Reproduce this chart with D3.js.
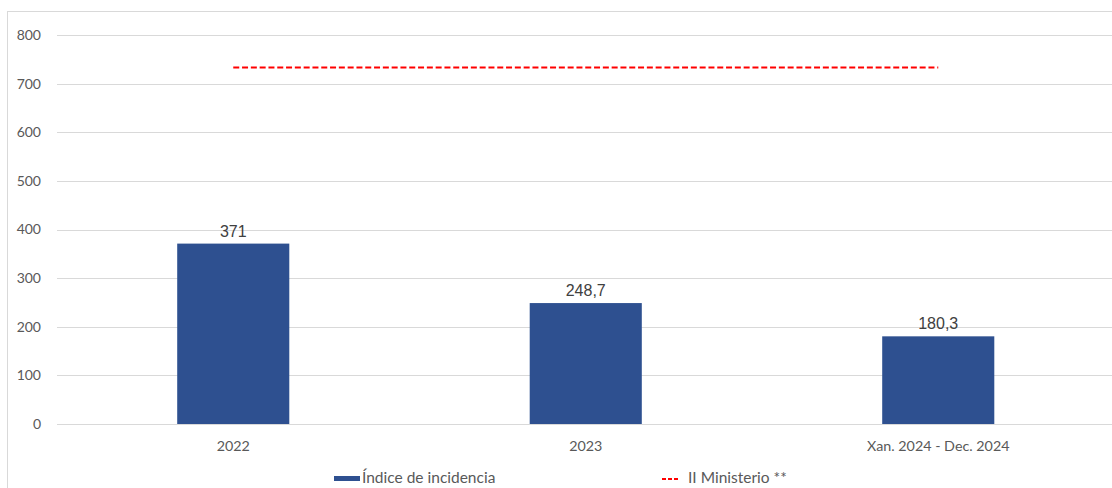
<!DOCTYPE html>
<html>
<head>
<meta charset="utf-8">
<script src="https://cdn.jsdelivr.net/npm/d3@7"></script>
<style>
  body { margin: 0; background: #fff; }
</style>
</head>
<body>
<div id="canvas"></div>
<script>
"use strict"

/* Data */
let categories = ["2022", "2023", "Xan. 2024 - Dec. 2024"];
let incidence = [371, 248.7, 180.3];
let valueLabels = ["371", "248,7", "180,3"];
let ministerio = [733, 733, 733];
let yTicks = [0, 100, 200, 300, 400, 500, 600, 700, 800];
let legendNames = ["Índice de incidencia", "II Ministerio **"];

/* Drawing configuration */
let svgWidth = 1112;
let svgHeight = 488;
let plotLeft = 57;
let plotRight = 1114.5;
let plotTop = 35;
let plotBottom = 424;
let barColor = "#2e5090";
let gridColor = "#d9d9d9";

let svg = d3.select("#canvas")
    .append("svg")
    .attr("width", svgWidth)
    .attr("height", svgHeight)
    .style("display", "block");

/* Chart area border (runs past the right and bottom edges) */
svg.append("rect")
    .attr("x", 7.5)
    .attr("y", 11.5)
    .attr("width", 1200)
    .attr("height", 600)
    .attr("fill", "none")
    .attr("stroke", gridColor);

let xScale = d3.scaleBand()
    .domain(categories)
    .range([plotLeft, plotRight])
    .paddingInner(0.682)
    .paddingOuter(0.341);

let yScale = d3.scaleLinear()
    .domain([0, 800])
    .range([plotBottom, plotTop]);

/* Gridlines */
svg.selectAll(".grid")
    .data(yTicks)
    .join("line")
    .attr("class", "grid")
    .attr("x1", plotLeft)
    .attr("x2", plotRight + 20)
    .attr("y1", d => Math.round(yScale(d)) + 0.5)
    .attr("y2", d => Math.round(yScale(d)) + 0.5)
    .attr("stroke", gridColor)
    .attr("stroke-width", 1);

/* Y tick labels */
svg.selectAll(".ylab")
    .data(yTicks)
    .join("text")
    .attr("class", "ylab")
    .attr("x", 41)
    .attr("y", d => yScale(d))
    .attr("dy", "0.35em")
    .attr("text-anchor", "end")
    .attr("font-family", "Lato, sans-serif")
    .attr("font-size", 14)
    .attr("fill", "#595959")
    .text(d => d);

/* Bars */
svg.selectAll(".bar")
    .data(incidence)
    .join("rect")
    .attr("class", "bar")
    .attr("x", (d, i) => xScale(categories[i]))
    .attr("y", d => yScale(d))
    .attr("width", xScale.bandwidth())
    .attr("height", d => yScale(0) - yScale(d))
    .attr("fill", barColor);

/* Value labels */
svg.selectAll(".vlab")
    .data(incidence)
    .join("text")
    .attr("class", "vlab")
    .attr("x", (d, i) => xScale(categories[i]) + xScale.bandwidth() / 2)
    .attr("y", d => yScale(d) - 7)
    .attr("text-anchor", "middle")
    .attr("font-family", "'Liberation Sans', Arial, sans-serif")
    .attr("font-size", 16)
    .attr("fill", "#404040")
    .text((d, i) => valueLabels[i]);

/* X tick labels */
svg.selectAll(".xlab")
    .data(categories)
    .join("text")
    .attr("class", "xlab")
    .attr("x", d => xScale(d) + xScale.bandwidth() / 2)
    .attr("y", 451)
    .attr("text-anchor", "middle")
    .attr("font-family", "Lato, sans-serif")
    .attr("font-size", 14.3)
    .attr("fill", "#595959")
    .text(d => d);

/* Dashed reference line */
let line = d3.line()
    .x((d, i) => xScale(categories[i]) + xScale.bandwidth() / 2)
    .y(d => yScale(d));

svg.append("path")
    .datum(ministerio)
    .attr("d", line)
    .attr("fill", "none")
    .attr("stroke", "#ff0000")
    .attr("stroke-width", 2)
    .attr("stroke-dasharray", "6,2.8");

/* Legend */
svg.append("rect")
    .attr("x", 334)
    .attr("y", 476)
    .attr("width", 26)
    .attr("height", 5)
    .attr("fill", barColor);

svg.append("text")
    .attr("x", 362)
    .attr("y", 482.5)
    .attr("font-family", "Lato, sans-serif")
    .attr("font-size", 15.5)
    .attr("fill", "#595959")
    .text(legendNames[0]);

svg.append("line")
    .attr("x1", 662)
    .attr("x2", 678)
    .attr("y1", 479)
    .attr("y2", 479)
    .attr("stroke", "#ff0000")
    .attr("stroke-width", 2)
    .attr("stroke-dasharray", "4,2");

svg.append("text")
    .attr("x", 688)
    .attr("y", 482.5)
    .attr("font-family", "Lato, sans-serif")
    .attr("font-size", 15.5)
    .attr("fill", "#595959")
    .text(legendNames[1]);
</script>
</body>
</html>
